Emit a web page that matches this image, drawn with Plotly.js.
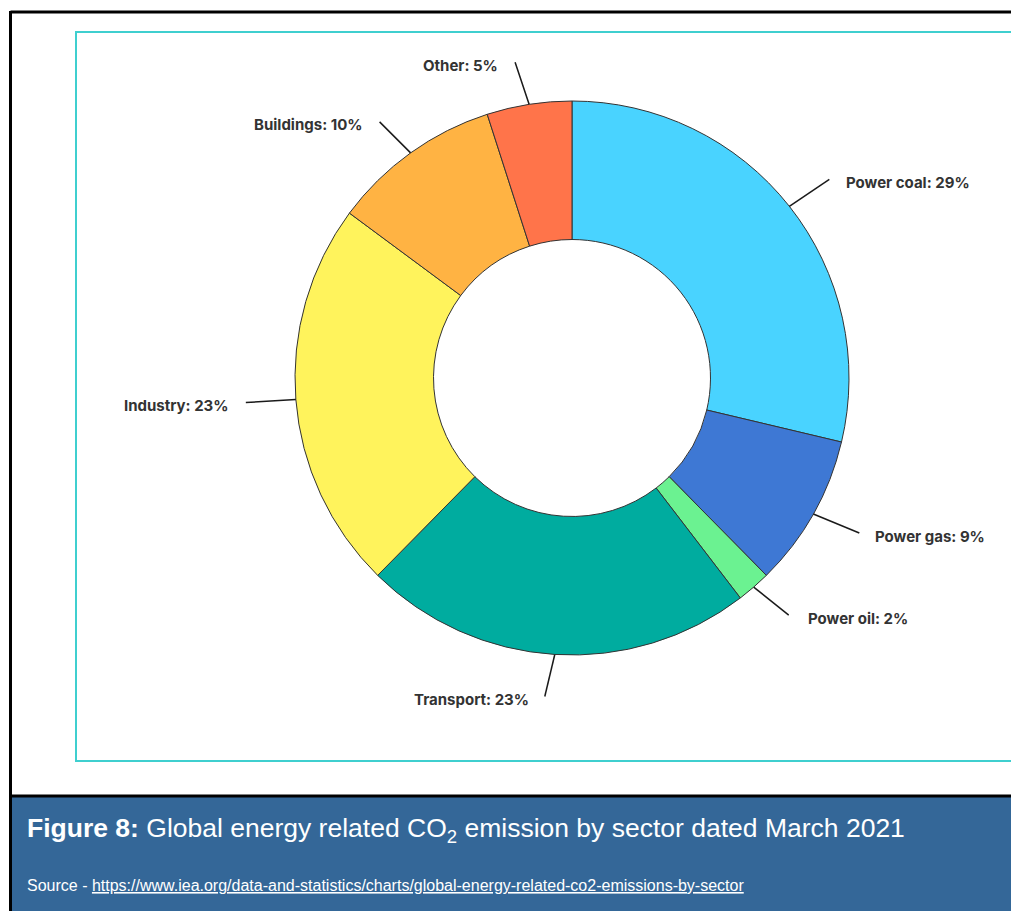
<!DOCTYPE html>
<html>
<head>
<meta charset="utf-8">
<script src="https://cdn.plot.ly/plotly-3.0.1.min.js"></script>
<style>
html,body{margin:0;padding:0;background:#fff;}
#chart{width:1011px;height:911px;}
</style>
</head>
<body>
<div id="chart"></div>
<script>
// Data
const sectors = ["Power coal", "Power gas", "Power oil", "Transport", "Industry", "Buildings", "Other"];
const shares = [29, 9, 2, 23, 23, 10, 5];
const sliceColors = ["#49D3FF", "#3E78D4", "#6BF291", "#00AC9F", "#FFF35C", "#FFB343", "#FF744A"];
const captionBold = "Figure 8:";
const captionText = "Global energy related CO<sub>2</sub> emission by sector dated March 2021";
const sourceLabel = "Source - ";
const sourceUrl = "https://www.iea.org/data-and-statistics/charts/global-energy-related-co2-emissions-by-sector";

const W = 1011, H = 911;
const cx = 572, cy = 378, R = 277;

// label placement per slice: leader line offset (dx,dy in px from outer edge) and text side
const leader = [
  {dx: 40, dy: -27, side: "left", gap: 15},
  {dx: 46, dy: 19, side: "left", gap: 14},
  {dx: 35, dy: 28, side: "left", gap: 17},
  {dx: -10, dy: 42, side: "right", gap: 14},
  {dx: -50, dy: 3, side: "right", gap: 15},
  {dx: -31, dy: -31, side: "right", gap: 15},
  {dx: -14, dy: -42, side: "right", gap: 15}
];

const total = shares.reduce((a, b) => a + b, 0);
const px = x => x / W;
const py = y => 1 - y / H;

const shapes = [];
const annotations = [];
let cum = 0;
shares.forEach((v, i) => {
  const mid = (cum + v / 2) / total * 2 * Math.PI;
  cum += v;
  const x0 = cx + R * Math.sin(mid);
  const y0 = cy - R * Math.cos(mid);
  const L = leader[i];
  const x1 = x0 + L.dx, y1 = y0 + L.dy;
  shapes.push({type: "line", xref: "paper", yref: "paper",
    x0: px(x0), y0: py(y0), x1: px(x1), y1: py(y1),
    line: {color: "#1a1a1a", width: 1.5}});
  const tx = L.side === "left" ? x1 + L.gap : x1 - L.gap;
  annotations.push({xref: "paper", yref: "paper", x: px(tx), y: py(y1 + 3),
    xanchor: L.side, yanchor: "middle", showarrow: false,
    text: "<b>" + sectors[i] + ": " + v + "%</b>",
    font: {family: "Inter, 'Open Sans', sans-serif", size: 15, color: "#333333"}});
});

// frames
shapes.push({type: "rect", xref: "paper", yref: "paper", x0: px(76), x1: px(1015), y0: py(32), y1: py(761),
  line: {color: "#3FCFCF", width: 2}, fillcolor: "rgba(0,0,0,0)", layer: "below"});
shapes.push({type: "rect", xref: "paper", yref: "paper", x0: px(11), x1: px(1015), y0: py(797), y1: py(915),
  line: {width: 0}, fillcolor: "#346798", layer: "below"});
shapes.push({type: "line", xref: "paper", yref: "paper", x0: px(10.5), x1: px(1015), y0: py(12), y1: py(12),
  line: {color: "#000", width: 3}});
shapes.push({type: "line", xref: "paper", yref: "paper", x0: px(10.5), x1: px(10.5), y0: py(11), y1: py(915),
  line: {color: "#000", width: 3}});
shapes.push({type: "line", xref: "paper", yref: "paper", x0: px(10.5), x1: px(1015), y0: py(796), y1: py(796),
  line: {color: "#000", width: 3}});

annotations.push({xref: "paper", yref: "paper", x: px(25), y: py(830), xanchor: "left", yanchor: "middle",
  showarrow: false, text: "<b>" + captionBold + "</b> " + captionText,
  font: {family: "Liberation Sans, Arial, sans-serif", size: 26.5, color: "#ffffff"}});
annotations.push({xref: "paper", yref: "paper", x: px(25), y: py(885), xanchor: "left", yanchor: "middle",
  showarrow: false, text: sourceLabel + "<u>" + sourceUrl + "</u>",
  font: {family: "Liberation Sans, Arial, sans-serif", size: 16, color: "#ffffff"}});

const trace = {
  type: "pie",
  labels: sectors,
  values: shares,
  hole: 0.5,
  sort: false,
  direction: "clockwise",
  rotation: 0,
  textinfo: "none",
  marker: {colors: sliceColors, line: {color: "#333333", width: 1}},
  domain: {x: [(cx - R) / W, (cx + R) / W], y: [1 - (cy + R) / H, 1 - (cy - R) / H]},
  showlegend: false,
  hoverinfo: "label+percent"
};

Plotly.newPlot("chart", [trace], {
  width: W, height: H,
  margin: {l: 0, r: 0, t: 0, b: 0},
  paper_bgcolor: "#ffffff",
  showlegend: false,
  shapes: shapes,
  annotations: annotations
}, {displayModeBar: false, staticPlot: true});
</script>
</body>
</html>
